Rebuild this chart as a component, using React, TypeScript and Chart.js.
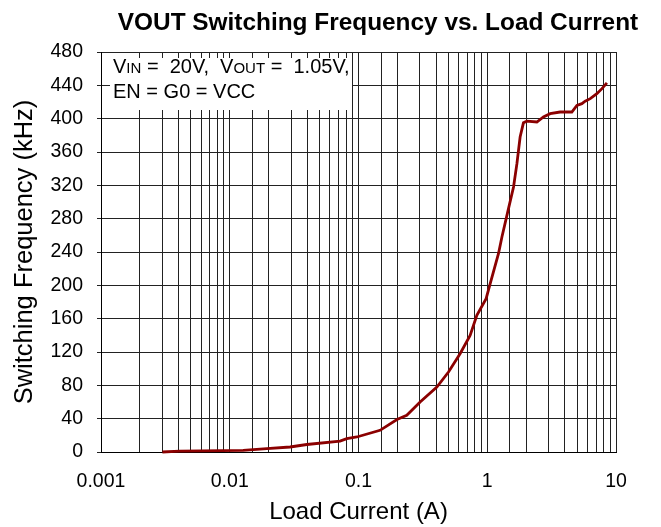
import React, { useEffect, useRef } from 'react';
import { Chart, registerables } from 'chart.js';

Chart.register(...registerables);

// ---- data ----
const loadCurrent = [
  0.003, 0.0041, 0.0127, 0.0194, 0.0294, 0.0397, 0.0719, 0.0811, 0.097, 0.147,
  0.199, 0.237, 0.301, 0.406, 0.5, 0.615, 0.736, 0.83, 0.98, 1.054,
  1.222, 1.3, 1.462, 1.6, 1.7, 1.8, 1.91, 2.03, 2.43, 2.73,
  3.08, 3.68, 4.54, 4.97, 5.43, 5.76, 6.31, 7.1, 7.78, 8.5,
];
const switchingFreq = [
  0, 1, 2, 4, 6, 9, 13, 16, 18, 26,
  39, 44, 60, 78, 96, 118, 140, 164, 184, 202,
  238, 258, 292, 318, 346, 378, 395, 397, 396, 402,
  406, 408, 408, 416, 418, 421, 424, 430, 436, 443,
];
const xTickLabels = ['0.001', '0.01', '0.1', '1', '10'];
const xMin = 0.001;
const xMax = 10;
const yMin = 0;
const yMax = 480;
const yStep = 40;

const chartTitle = 'VOUT Switching Frequency vs. Load Current';
const xAxisTitle = 'Load Current (A)';
const yAxisTitle = 'Switching Frequency (kHz)';
const noteLine1 = [
  { text: 'V', sub: false },
  { text: 'IN', sub: true },
  { text: ' =  20V,  V', sub: false },
  { text: 'OUT', sub: true },
  { text: ' =  1.05V,', sub: false },
];
const noteLine2 = 'EN = G0 = VCC';

const FONT = '"Liberation Sans", Arial, Helvetica, sans-serif';

const annotPlugin = {
  id: 'annot',
  beforeDatasetsDraw(chart: any) {
    const { ctx, chartArea } = chart;
    ctx.save();
    ctx.fillStyle = '#ffffff';
    ctx.fillRect(chartArea.left + 9, chartArea.top + 6, 242, 52);
    ctx.fillStyle = '#000';
    ctx.textBaseline = 'alphabetic';
    ctx.textAlign = 'left';
    let x = chartArea.left + 12;
    const y1 = chartArea.top + 21;
    for (const seg of noteLine1) {
      ctx.font = (seg.sub ? '15px ' : '20px ') + FONT;
      ctx.fillText(seg.text, x, y1);
      x += ctx.measureText(seg.text).width;
    }
    ctx.font = '20px ' + FONT;
    ctx.fillText(noteLine2, chartArea.left + 12, chartArea.top + 46);
    ctx.restore();
  },
  afterDraw(chart: any) {
    const { ctx, chartArea } = chart;
    ctx.save();
    ctx.fillStyle = '#000';
    ctx.font = 'bold 24.4px ' + FONT;
    ctx.textAlign = 'center';
    ctx.textBaseline = 'alphabetic';
    const cx = (chartArea.left + chartArea.right) / 2 + 19.5;
    ctx.fillText(chartTitle, cx, 21.5);
    ctx.restore();
  },
};

export default function App() {
  const ref = useRef<HTMLCanvasElement | null>(null);
  useEffect(() => {
    if (!ref.current) return;
    const chart = new Chart(ref.current, {
      type: 'line',
      data: {
        datasets: [
          {
            data: loadCurrent.map((x, i) => ({ x, y: switchingFreq[i] })),
            borderColor: '#8b0000',
            backgroundColor: '#8b0000',
            borderWidth: 2.8,
            pointRadius: 0,
            tension: 0,
            clip: 4,
          } as any,
        ],
      },
      options: {
        animation: false,
        responsive: false,
        devicePixelRatio: 1,
        layout: { padding: { top: 44, right: 37, left: 0, bottom: 0 } },
        plugins: {
          legend: { display: false },
          title: { display: false },
          tooltip: { enabled: false },
        },
        scales: {
          x: {
            type: 'logarithmic',
            min: xMin,
            max: xMax,
            afterFit: (s: any) => {
              s.height = 75;
            },
            grid: { color: '#222', lineWidth: 1, drawTicks: false },
            border: { color: '#000', width: 1 },
            ticks: {
              autoSkip: false,
              maxRotation: 0,
              padding: 18,
              color: '#000',
              font: { family: FONT, size: 19.5 },
              callback: (v: any) => {
                const l = Math.log10(Number(v));
                const r = Math.round(l);
                if (Math.abs(l - r) < 1e-6) return xTickLabels[r + 3] ?? '';
                return '';
              },
            },
            title: {
              display: true,
              text: xAxisTitle,
              color: '#000',
              font: { family: FONT, size: 24 },
              padding: { top: 0, bottom: 0 },
            },
          },
          y: {
            type: 'linear',
            min: yMin,
            max: yMax,
            afterFit: (s: any) => {
              s.width = 93;
            },
            grid: { color: '#222', lineWidth: 1, drawTicks: true, tickLength: 4 },
            border: { color: '#000', width: 1 },
            ticks: {
              stepSize: yStep,
              padding: 14,
              color: '#000',
              font: { family: FONT, size: 19.5 },
            },
            title: {
              display: true,
              text: yAxisTitle,
              color: '#000',
              font: { family: FONT, size: 25.5 },
              padding: { top: 1.5, bottom: 0 },
            },
          },
        },
      } as any,
      plugins: [annotPlugin],
    });
    return () => chart.destroy();
  }, []);
  return (
    <div style={{ width: 645, height: 519 }}>
      <canvas ref={ref} width={645} height={519} style={{ display: 'block' }} />
    </div>
  );
}
